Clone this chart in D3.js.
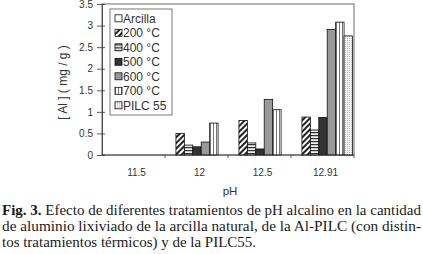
<!DOCTYPE html>
<html>
<head>
<meta charset="utf-8">
<script src="https://cdn.jsdelivr.net/npm/d3@7"></script>
<style>
  html, body { margin: 0; padding: 0; background: #fff; }
  svg { display: block; }
  .axis text { font-family: 'Liberation Sans', Arial, sans-serif; font-size: 10px; fill: #333; }
  .axis path, .axis line { stroke: #333; stroke-width: 0.8px; }
  .caption { font-family: 'Liberation Serif', 'Times New Roman', serif; font-size: 14px; fill: #1a1a1a; }
</style>
</head>
<body>
<div id="chart"></div>
<script>
// chart values
var categories = ["11.5", "12", "12.5", "12.91"];
var seriesNames = ["Arcilla", "200 \u00B0C", "400 \u00B0C", "500 \u00B0C", "600 \u00B0C", "700 \u00B0C", "PILC 55"];
var arcilla = [0, 0, 0, 0];
var t200 = [0, 0.50, 0.80, 0.88];
var t400 = [0, 0.23, 0.28, 0.58];
var t500 = [0, 0.19, 0.14, 0.87];
var t600 = [0, 0.30, 1.29, 2.91];
var t700 = [0, 0.74, 1.05, 3.08];
var pilc55 = [0, 0, 0, 2.76];
var yTicks = [0, 0.5, 1, 1.5, 2, 2.5, 3, 3.5];

var seriesValues = [arcilla, t200, t400, t500, t600, t700, pilc55];
var fills = ["#fff", "url(#p200)", "url(#p400)", "#333", "#999", "url(#p700)", "url(#ppilc)"];

var width = 423, height = 254;
var plot = { left: 102, right: 354, top: 4, bottom: 155 };

var svg = d3.select("#chart").append("svg")
    .attr("width", width)
    .attr("height", height);

// patterns
var defs = svg.append("defs");
var p200 = defs.append("pattern").attr("id", "p200")
    .attr("width", 4).attr("height", 4)
    .attr("patternUnits", "userSpaceOnUse")
    .attr("patternTransform", "rotate(45)");
p200.append("rect").attr("width", 4).attr("height", 4).attr("fill", "#fff");
p200.append("rect").attr("width", 2).attr("height", 4).attr("fill", "#222");

var p400 = defs.append("pattern").attr("id", "p400")
    .attr("width", 3).attr("height", 3)
    .attr("patternUnits", "userSpaceOnUse");
p400.append("rect").attr("width", 3).attr("height", 3).attr("fill", "#eee");
p400.append("rect").attr("width", 3).attr("height", 1.2).attr("fill", "#333");

var p700 = defs.append("pattern").attr("id", "p700")
    .attr("width", 3).attr("height", 3)
    .attr("patternUnits", "userSpaceOnUse");
p700.append("rect").attr("width", 3).attr("height", 3).attr("fill", "#fff");
p700.append("rect").attr("width", 0.9).attr("height", 3).attr("fill", "#666");

var ppilc = defs.append("pattern").attr("id", "ppilc")
    .attr("width", 2).attr("height", 2)
    .attr("patternUnits", "userSpaceOnUse");
ppilc.append("rect").attr("width", 2).attr("height", 2).attr("fill", "#f4f4f4");
ppilc.append("rect").attr("width", 1).attr("height", 1).attr("fill", "#bbb");

var xScale = d3.scaleBand()
    .domain(categories)
    .range([plot.left, plot.right]);

var xSub = d3.scaleBand()
    .domain(seriesNames)
    .range([2.5, xScale.bandwidth() - 1.5]);

var yScale = d3.scaleLinear()
    .domain([0, 3.5])
    .range([plot.bottom, plot.top]);

// frame
svg.append("rect")
    .attr("x", plot.left).attr("y", plot.top)
    .attr("width", plot.right - plot.left)
    .attr("height", plot.bottom - plot.top)
    .attr("fill", "none")
    .attr("stroke", "#444")
    .attr("stroke-width", 0.8);

// bars
var groups = svg.append("g").selectAll("g")
    .data(categories)
    .enter().append("g")
    .attr("transform", function(d) { return "translate(" + xScale(d) + ",0)"; });

groups.selectAll("rect")
    .data(function(cat, ci) {
        return seriesNames.map(function(name, si) {
            return { name: name, value: seriesValues[si][ci], fill: fills[si] };
        });
    })
    .enter().filter(function(d) { return d.value > 0; })
    .append("rect")
    .attr("x", function(d) { return xSub(d.name); })
    .attr("y", function(d) { return yScale(d.value); })
    .attr("width", xSub.bandwidth())
    .attr("height", function(d) { return yScale(0) - yScale(d.value); })
    .attr("fill", function(d) { return d.fill; })
    .attr("stroke", "#111")
    .attr("stroke-width", 0.8);

// y axis, ticks cross the axis line
var yAxisG = svg.append("g")
    .attr("class", "axis")
    .attr("transform", "translate(" + plot.left + ",0)")
    .call(d3.axisLeft(yScale).tickValues(yTicks).tickSize(5).tickSizeOuter(0).tickPadding(4)
        .tickFormat(function(d) { return d; }));
yAxisG.selectAll(".tick line").attr("x1", 3);
yAxisG.select(".domain").attr("stroke-width", 1.2);

// x axis (ticks on category boundaries)
var xAxisG = svg.append("g")
    .attr("class", "axis")
    .attr("transform", "translate(0," + plot.bottom + ")");
xAxisG.append("line")
    .attr("x1", plot.left).attr("x2", plot.right)
    .attr("stroke", "#333").attr("stroke-width", 1.2);
xAxisG.selectAll(".tick")
    .data(categories)
    .enter().append("line")
    .attr("x1", function(d) { return xScale(d) + xScale.bandwidth(); })
    .attr("x2", function(d) { return xScale(d) + xScale.bandwidth(); })
    .attr("y2", 3);
xAxisG.selectAll(".lbl")
    .data(categories)
    .enter().append("text")
    .attr("x", function(d) { return xScale(d) + xScale.bandwidth() / 2 + 3; })
    .attr("y", 21)
    .attr("text-anchor", "middle")
    .text(function(d) { return d; });

// axis titles
svg.append("text")
    .attr("transform", "translate(66.5,82.5) rotate(-90)")
    .attr("text-anchor", "middle")
    .style("font-family", "'Liberation Sans', Arial, sans-serif")
    .style("font-size", "12px")
    .style("fill", "#333")
    .text("[ Al ] ( mg / g )");

svg.append("text")
    .attr("x", (plot.left + plot.right) / 2 + 2)
    .attr("y", 195)
    .attr("text-anchor", "middle")
    .style("font-family", "'Liberation Sans', Arial, sans-serif")
    .style("font-size", "11.5px")
    .style("fill", "#333")
    .text("pH");

// legend
var legend = svg.append("g").attr("transform", "translate(110,9)");
legend.append("rect")
    .attr("width", 62).attr("height", 106)
    .attr("fill", "#fff")
    .attr("stroke", "#555")
    .attr("stroke-width", 0.8);

var legendItems = legend.selectAll(".item")
    .data(seriesNames)
    .enter().append("g")
    .attr("transform", function(d, i) { return "translate(5," + (9.3 + i * 14.5) + ")"; });

legendItems.append("rect")
    .attr("x", 0).attr("y", -3.5)
    .attr("width", 7).attr("height", 7)
    .attr("fill", function(d, i) { return fills[i]; })
    .attr("stroke", "#111")
    .attr("stroke-width", 0.8);

legendItems.append("text")
    .attr("x", 8)
    .attr("y", 4.2)
    .style("font-family", "'Liberation Sans', Arial, sans-serif")
    .style("font-size", "12px")
    .style("fill", "#333")
    .text(function(d) { return d; });

// caption (scanned text is condensed, so each line is fitted to its width)
var captionLines = [
    { bold: "Fig. 3.", rest: " Efecto de diferentes tratamientos de pH alcalino en la cantidad", len: 419, y: 215 },
    { bold: "", rest: "de aluminio lixiviado de la arcilla natural, de la Al-PILC (con distin-", len: 419, y: 231 },
    { bold: "", rest: "tos tratamientos t\u00E9rmicos) y de la PILC55.", len: 254, y: 246.8 }
];

captionLines.forEach(function(line) {
    var t = svg.append("text")
        .attr("class", "caption")
        .attr("x", 2)
        .attr("y", line.y)
        .attr("textLength", line.len)
        .attr("lengthAdjust", "spacingAndGlyphs");
    if (line.bold) {
        t.append("tspan").style("font-weight", "bold").text(line.bold);
    }
    t.append("tspan").text(line.rest);
});
</script>
</body>
</html>
